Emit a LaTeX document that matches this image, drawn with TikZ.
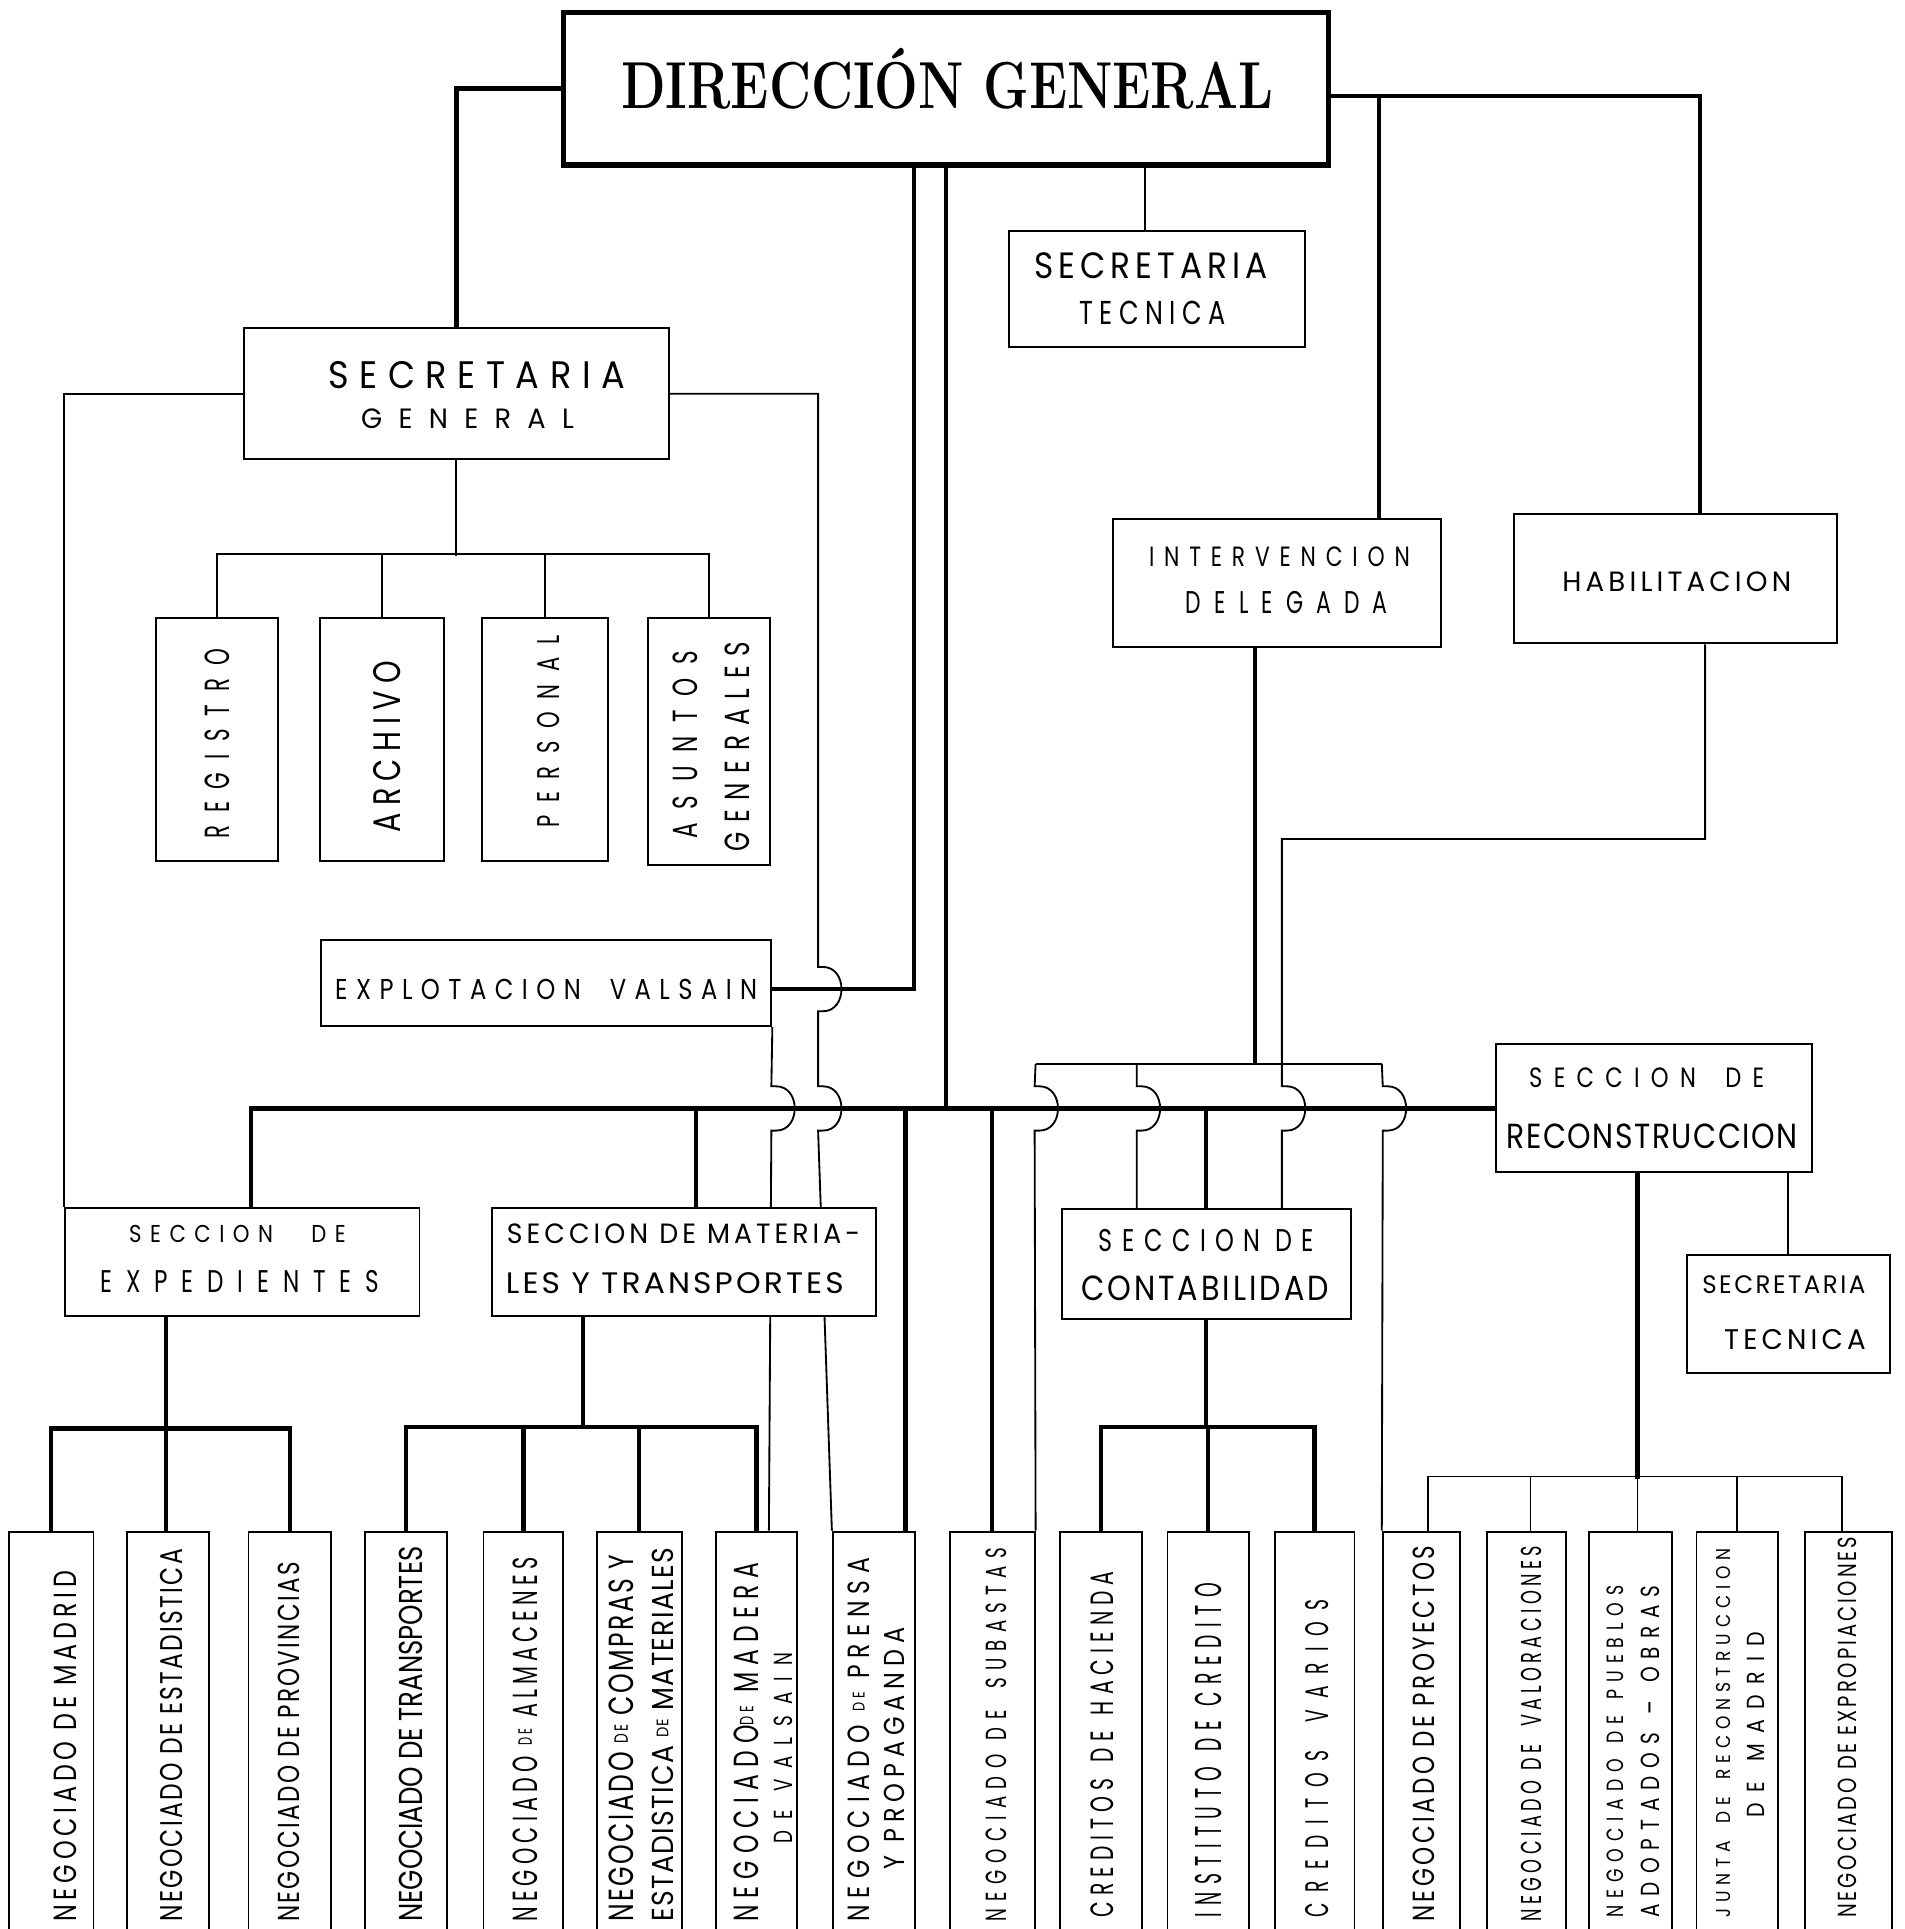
\documentclass[tikz,border=0pt]{standalone}
\usepackage{fontspec}
\usepackage{graphicx}
\usetikzlibrary{fit,calc}
\newfontfamily\lf{Poppins}
\newcommand\lbl[4][20]{\resizebox{#2pt}{#3pt}{\lf\addfontfeature{LetterSpace=#1}#4}}
\newcommand\sde{\raisebox{0.16em}{\scalebox{0.55}{DE}}}
\pgfdeclarelayer{back}
\pgfdeclarelayer{bg}
\pgfsetlayers{back,bg,main}
\begin{document}
\begin{tikzpicture}[x=1pt,y=-1pt,
  thk/.style={line width=3.5pt},
  thn/.style={line width=1.5pt},
  bx/.style={draw,line width=1.6pt,fill=white,inner sep=0pt},
  lab/.style={inner sep=0pt},
  rot/.style={inner sep=0pt,rotate=90},
  hop/.style args={#1/#2}{insert path={-- (#1,#2-18) -- (#1+4,#2-18) .. controls (#1+24,#2-18) and (#1+24,#2+18) .. (#1+4,#2+18) -- (#1,#2+18)}}]
\begin{pgfonlayer}{back}
\fill[white] (0,0) rectangle (1548,1568);
\end{pgfonlayer}
\useasboundingbox (0,0) rectangle (1548,1568);

% boxes
\node[bx, line width=4.5pt, fit={(458,10) (1080,134)}] (dg) {};
\node[bx, fit={(820,188) (1061,282)}] (stec) {};
\node[bx, fit={(198,267) (544,373)}] (sg) {};
\node[bx, fit={(127,502) (226,700)}] (reg) {};
\node[bx, fit={(260,502) (361,700)}] (arch) {};
\node[bx, fit={(392,502) (494,700)}] (pers) {};
\node[bx, fit={(527,502) (626,703)}] (asun) {};
\node[bx, fit={(261,764) (627,834)}] (expl) {};
\node[bx, fit={(905,422) (1171,526)}] (interv) {};
\node[bx, fit={(1231,418) (1493,523)}] (habil) {};
\node[bx, fit={(1216,849) (1473,953)}] (recon) {};
\node[bx, fit={(53,982) (341,1070)}] (exped) {};
\node[bx, fit={(400,982) (712,1070)}] (mater) {};
\node[bx, fit={(863,983) (1098,1072)}] (conta) {};
\node[bx, fit={(1371,1020) (1536,1116)}] (stec2) {};
\node[bx, fit={(7,1245) (76,1600)}] (n1) {};
\node[bx, fit={(103,1245) (170,1600)}] (n2) {};
\node[bx, fit={(202,1245) (269,1600)}] (n3) {};
\node[bx, fit={(297,1245) (363,1600)}] (n4) {};
\node[bx, fit={(393,1245) (458,1600)}] (n5) {};
\node[bx, fit={(485,1245) (554,1600)}] (n6) {};
\node[bx, fit={(582,1245) (648,1600)}] (n7) {};
\node[bx, fit={(677,1245) (744,1600)}] (n8) {};
\node[bx, fit={(772,1245) (841,1600)}] (n9) {};
\node[bx, fit={(862,1245) (928,1600)}] (n10) {};
\node[bx, fit={(949,1245) (1015,1600)}] (n11) {};
\node[bx, fit={(1036,1245) (1101,1600)}] (n12) {};
\node[bx, fit={(1124,1245) (1187,1600)}] (n13) {};
\node[bx, fit={(1209,1245) (1273,1600)}] (n14) {};
\node[bx, fit={(1292,1245) (1359,1600)}] (n15) {};
\node[bx, fit={(1379,1245) (1445,1600)}] (n16) {};
\node[bx, fit={(1467,1245) (1538,1600)}] (n17) {};

% connectors
\begin{pgfonlayer}{bg}
\draw[thk] (dg.west) -| (sg.north);
\draw[thk] ($(dg.east)+(0,6)$) -| ([xshift=20pt]habil.north);
\draw[thk] ([xshift=83pt]interv.north) |- ($(dg.east)+(0,6)$);
\draw[thn] ([xshift=-9.5pt]stec.north) -- ([xshift=-9.5pt]stec.north |- dg.south);
\draw[thk] (dg.south) -- (dg.south |- recon.west);
\draw[thk] ($(expl.east)+(0,5)$) -| ([xshift=-26pt]dg.south);
\draw[thn] (sg.west) -| (exped.north west);
\draw[thn] (sg.east) -| (665,786) [hop=665/804] -- (665,883) [hop=665/901] -- (n8.north west);
\draw[thn] (sg.south) -- ++(0,78);
\draw[thn] (reg.north) -- ++(0,-51) -| (asun.north);
\draw[thn] (arch.north) -- ++(0,-51);
\draw[thn] (pers.north) -- ++(0,-51);
\draw[thn] (expl.south east) [hop=627/901] -- ([xshift=10pt]n7.north);
\draw[thk] ([xshift=7pt]exped.north) |- (recon.west);
\draw[thk] ([xshift=10pt]mater.north) -- ([xshift=10pt]mater.north |- recon.west);
\draw[thk] ([xshift=25.5pt]n8.north) -- ([xshift=25.5pt]n8.north |- recon.west);
\draw[thk] (n9.north) -- (n9.north |- recon.west);
\draw[thk] (conta.north) -- (conta.north |- recon.west);
\draw[thk] ([xshift=-18pt]interv.south) -- ++(0,338) coordinate (hbj);
\draw[thn] (n9.north east |- hbj) -- (n13.north west |- hbj);
\draw[thn] (n9.north east |- hbj) [hop=841/901] -- (n9.north east);
\draw[thn] ([xshift=-56.5pt]conta.north |- hbj) [hop=924/901] -- ([xshift=-56.5pt]conta.north);
\draw[thn] ([xshift=24pt]habil.south) |- (1042,682) [hop=1042/901] -- ([xshift=61.5pt]conta.north);
\draw[thn] (n13.north west |- hbj) [hop=1124/901] -- (n13.north west);
\draw[thk] ([xshift=-62pt]exped.south) -- ([xshift=-62pt]exped.south |- n2.north);
\draw[thk] (n1.north) -- ++(0,-83) -| (n3.north);
\draw[thk] ([xshift=-82pt]mater.south) -- ++(0,91);
\draw[thk] (n4.north) -- ++(0,-84) -| (n7.north);
\draw[thk] (n5.north) -- ++(0,-84);
\draw[thk] (n6.north) -- ++(0,-84);
\draw[thk] (conta.south) -- ++(0,89);
\draw[thk] (n10.north) -- ++(0,-84) -| (n12.north);
\draw[thk] (n11.north) -- ++(0,-84);
\draw[thk] ([xshift=-13.5pt]recon.south) -- ++(0,248);
\draw[thn] ([xshift=5.5pt]n13.north) -- ++(0,-44) -| ([xshift=-5.5pt]n17.north);
\draw[thn] ([xshift=3pt]n14.north) -- ++(0,-44);
\draw[thn] ([xshift=5.5pt]n15.north) -- ++(0,-44);
\draw[thn] (n16.north) -- ++(0,-44);
\draw[thn] (stec2.north) -- (stec2.north |- recon.south);
\end{pgfonlayer}

% texts
\node[lab, anchor=base] (tdg) at (770,88) {\resizebox{530pt}{\height}{\fontsize{54}{60}\selectfont\bfseries DIRECCIÓN GENERAL}};
\node[lab] (t-sg1) at (387.5,304.7) {\lbl[30]{241}{22}{SECRETARIA}};
\node[lab] (t-sg2) at (380,340) {\lbl[60]{173}{16}{GENERAL}};
\node[lab] (t-st1) at (935.5,216.3) {\lbl[15]{189}{21}{SECRETARIA}};
\node[lab] (t-st2) at (937,254.3) {\lbl[25]{118.6}{19}{TECNICA}};
\node[lab] (t-in1) at (1040,452.5) {\lbl[45]{212}{16}{INTERVENCION}};
\node[lab] (t-in2) at (1046,489.8) {\lbl[60]{164}{18}{DELEGADA}};
\node[lab] (t-hb) at (1363,473) {\lbl[15]{186}{16}{HABILITACION}};
\node[rot] (t-reg) at (176.7,604.7) {\lbl[60]{154}{20}{REGISTRO}};
\node[rot] (t-arc) at (314.8,607) {\lbl[25]{139}{22}{ARCHIVO}};
\node[rot] (t-per) at (446,594.8) {\lbl[60]{156}{18}{PERSONAL}};
\node[rot] (t-as1) at (557.3,605.3) {\lbl[60]{153}{20}{ASUNTOS}};
\node[rot] (t-as2) at (599.6,607) {\lbl[40]{171}{20}{GENERALES}};
\node[lab] (t-ex) at (444,804) {\lbl[35]{343}{16.5}{EXPLOTACION\hspace{1.2em}VALSAIN}};
\node[lab] (t-ed1) at (193,1003) {\lbl[40]{176}{14}{SECCION\hspace{1.8em}DE}};
\node[lab] (t-ed2) at (195,1041.6) {\lbl[60]{226.5}{18}{EXPEDIENTES}};
\node[lab] (t-ma1) at (555.6,1003) {\lbl[15]{287}{16}{SECCION DE MATERIA-}};
\node[lab] (t-ma2) at (548.5,1043.3) {\lbl[10]{274.6}{17}{LES Y TRANSPORTES}};
\node[lab] (t-co1) at (980.5,1008.5) {\lbl[40]{175}{18}{SECCION\hspace{0.6em}DE}};
\node[lab] (t-co2) at (979.6,1047) {\lbl[10]{201.6}{20}{CONTABILIDAD}};
\node[lab] (t-re1) at (1338.5,876.3) {\lbl[50]{191}{16}{SECCION\hspace{1.3em}DE}};
\node[lab] (t-re2) at (1343,923.4) {\lbl[5]{236.5}{20}{RECONSTRUCCION}};
\node[lab] (t-s21) at (1450,1044) {\lbl[10]{132.5}{14.5}{SECRETARIA}};
\node[lab] (t-s22) at (1459,1088.5) {\lbl[15]{115}{16.3}{TECNICA}};

\node[rot] (t-n1) at (53,1419.5) {\lbl[20]{285}{18.4}{NEGOCIADO DE MADRID}};
\node[rot] (t-n2) at (139.3,1410.5) {\lbl[10]{303}{18}{NEGOCIADO DE ESTADISTICA}};
\node[rot] (t-n3) at (235,1416) {\lbl[10]{292}{17.4}{NEGOCIADO DE PROVINCIAS}};
\node[rot] (t-n4) at (334,1409.5) {\lbl[0]{305}{19}{NEGOCIADO DE TRANSPORTES}};
\node[rot] (t-n5) at (427,1414) {\lbl[25]{296}{20}{NEGOCIADO \sde{} ALMACENES}};
\node[rot] (t-n6a) at (505,1413) {\lbl[10]{298}{20}{NEGOCIADO \sde{} COMPRAS Y}};
\node[rot] (t-n6b) at (538.7,1410) {\lbl[5]{303.5}{17.4}{ESTADISTICA \sde{} MATERIALES}};
\node[rot] (t-n7a) at (607,1416) {\lbl[30]{292}{20}{NEGOCIADO\sde{} MADERA}};
\node[rot] (t-n7b) at (637,1421) {\lbl[60]{155}{15}{DE\hspace{1em}VALSAIN}};
\node[rot] (t-n8a) at (698,1414) {\lbl[30]{296}{17.6}{NEGOCIADO \sde{} PRENSA}};
\node[rot] (t-n8b) at (727,1421) {\lbl[25]{196.5}{16.5}{Y PROPAGANDA}};
\node[rot] (t-n9) at (809.6,1410) {\lbl[40]{303.5}{16.7}{NEGOCIADO\hspace{0.8em}DE\hspace{1.2em}SUBASTAS}};
\node[rot] (t-n10) at (895.6,1418) {\lbl[30]{281.4}{18.5}{CREDITOS\hspace{0.8em}DE\hspace{0.8em}HACIENDA}};
\node[rot] (t-n11) at (982,1422.8) {\lbl[40]{272}{21.4}{INSTITUTO\hspace{0.8em}DE\hspace{0.8em}CREDITO}};
\node[rot] (t-n12) at (1070.6,1429.4) {\lbl[60]{258.8}{18.7}{CREDITOS\hspace{1.5em}VARIOS}};
\node[rot] (t-n13) at (1157.6,1409.3) {\lbl[15]{305.4}{17.5}{NEGOCIADO DE PROYECTOS}};
\node[rot] (t-n14) at (1244.6,1409.3) {\lbl[25]{305.4}{16.5}{NEGOCIADO\hspace{0.6em}DE\hspace{1em}VALORACIONES}};
\node[rot] (t-n15a) at (1313,1423.7) {\lbl[40]{270}{13.5}{NEGOCIADO\hspace{0.9em}DE\hspace{0.9em}PUEBLOS}};
\node[rot] (t-n15b) at (1341.5,1423.7) {\lbl[40]{270}{15}{ADOPTADOS\hspace{0.9em}–\hspace{0.9em}OBRAS}};
\node[rot] (t-n16a) at (1400.7,1408.6) {\lbl[35]{300.3}{11.5}{JUNTA\hspace{1em}DE\hspace{1em}RECONSTRUCCION}};
\node[rot] (t-n16b) at (1427,1402) {\lbl[50]{151}{14}{DE\hspace{1em}MADRID}};
\node[rot] (t-n17) at (1501.5,1404) {\lbl[15]{309.8}{15}{NEGOCIADO DE EXPROPIACIONES}};
\end{tikzpicture}
\end{document}
